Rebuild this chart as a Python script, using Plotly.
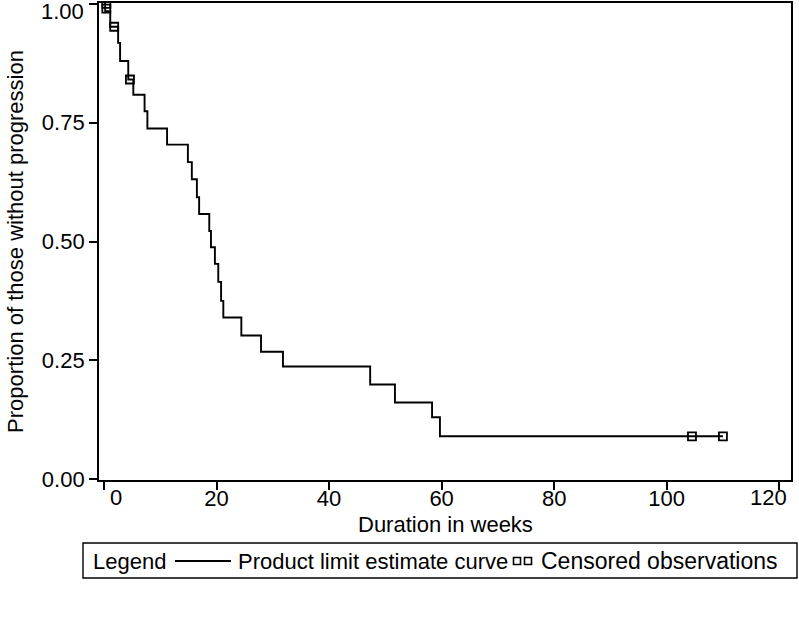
import plotly.graph_objects as go

# ---- data ----
event_weeks = [0.0, 0.2, 1.1, 2.5, 2.85, 4.3, 5.2, 7.2, 7.7, 11.2, 14.9, 15.6, 16.5, 16.9,
               18.7, 19.0, 19.7, 20.3, 20.8, 21.2, 24.4, 27.9, 31.8, 47.3, 51.7, 58.3, 59.7, 110.0]
survival = [1.0, 0.985, 0.952, 0.918, 0.880, 0.841, 0.809, 0.774, 0.738, 0.704, 0.667, 0.631,
            0.593, 0.558, 0.522, 0.488, 0.453, 0.415, 0.375, 0.340, 0.302, 0.268, 0.237,
            0.199, 0.161, 0.130, 0.090, 0.090]
censored_weeks = [0.4, 0.4, 1.8, 4.6, 104.5, 110.0]
censored_surv = [1.0, 0.99, 0.952, 0.841, 0.090, 0.090]

x_ticks = [0, 20, 40, 60, 80, 100, 120]
x_labels = ["0", "20", "40", "60", "80", "100", "120"]
y_ticks = [0.0, 0.25, 0.50, 0.75, 1.0]
y_labels = ["0.00", "0.25", "0.50", "0.75", "1.00"]

FONT = "Liberation Sans, Arial, sans-serif"
FS = 22
W, H = 799, 621
L, R, T, B = 99, 8, 3, 141
PW, PH = W - L - R, H - T - B


def px(x):
    return (x - L) / PW


def py(y):
    return (H - B - y) / PH


def label(text, x, y, anchor="center", size=FS):
    return dict(text=text, xref="paper", yref="paper", x=px(x), y=py(y),
                xanchor=anchor, yanchor="middle", showarrow=False,
                font=dict(family=FONT, size=size, color="black"))


fig = go.Figure()
fig.add_trace(go.Scatter(x=event_weeks, y=survival, mode="lines", line_shape="hv",
                         line=dict(color="black", width=1.9),
                         name="Product limit estimate curve", showlegend=False))
fig.add_trace(go.Scatter(x=censored_weeks, y=censored_surv, mode="markers",
                         marker=dict(symbol="square-open", size=8, color="black",
                                     line=dict(width=1.8, color="black")),
                         name="Censored observations", showlegend=False))

# legend box drawn manually
shapes = [
    dict(type="rect", xref="paper", yref="paper", x0=px(83), x1=px(797), y0=py(578), y1=py(543),
         line=dict(color="black", width=1.4), fillcolor="rgba(0,0,0,0)"),
    dict(type="line", xref="paper", yref="paper", x0=px(175), x1=px(231), y0=py(561), y1=py(561),
         line=dict(color="black", width=1.8)),
]
for cx in (517, 528):
    shapes.append(dict(type="rect", xref="paper", yref="paper", x0=px(cx - 3.5), x1=px(cx + 3.5),
                       y0=py(564.5), y1=py(557.5), line=dict(color="black", width=1.6)))

annotations = [
    label("Legend", 91, 561, "left"),
    label("Product limit estimate curve", 236, 561, "left"),
    label("Censored observations", 539, 561, "left", 23),
    label("Duration in weeks", 445, 524),
]

# edge tick labels, nudged inward as in the reference
x_tt = list(x_labels)
y_tt = list(y_labels)
annotations.append(label(y_labels[-1], 86, 12, "right"))
y_tt[-1] = ""
annotations.append(label(x_labels[0], 116, 497))
annotations.append(label(x_labels[-1], 768, 497))
x_tt[0] = ""
x_tt[-1] = ""

fig.update_layout(
    width=W, height=H,
    margin=dict(l=L, r=R, t=T, b=B, pad=0),
    paper_bgcolor="white", plot_bgcolor="white",
    font=dict(family=FONT, size=FS, color="black"),
    showlegend=False,
    shapes=shapes, annotations=annotations,
)
fig.update_xaxes(range=[-0.9, 122.1], tickvals=x_ticks, ticktext=x_tt, automargin=False,
                 showgrid=False, zeroline=False, showline=True, mirror=True,
                 linecolor="black", linewidth=1.8, ticks="outside", ticklen=8,
                 tickcolor="black", tickwidth=1.5, tickfont=dict(size=FS),
                 ticklabeloverflow="allow", ticklabelstandoff=-10)
fig.update_yaxes(range=[-0.002, 1.002], tickvals=y_ticks, ticktext=y_tt, automargin=False,
                 showgrid=False, zeroline=False, showline=True, mirror=True,
                 linecolor="black", linewidth=1.8, ticks="outside", ticklen=8,
                 tickcolor="black", tickwidth=1.5, tickfont=dict(size=FS),
                 ticklabeloverflow="allow",
                 title=dict(text="Proportion of those without progression", font=dict(size=FS),
                            standoff=12))

fig.write_html("out.html", config={"displayModeBar": False},
               post_script="document.body.style.margin='0px';")
